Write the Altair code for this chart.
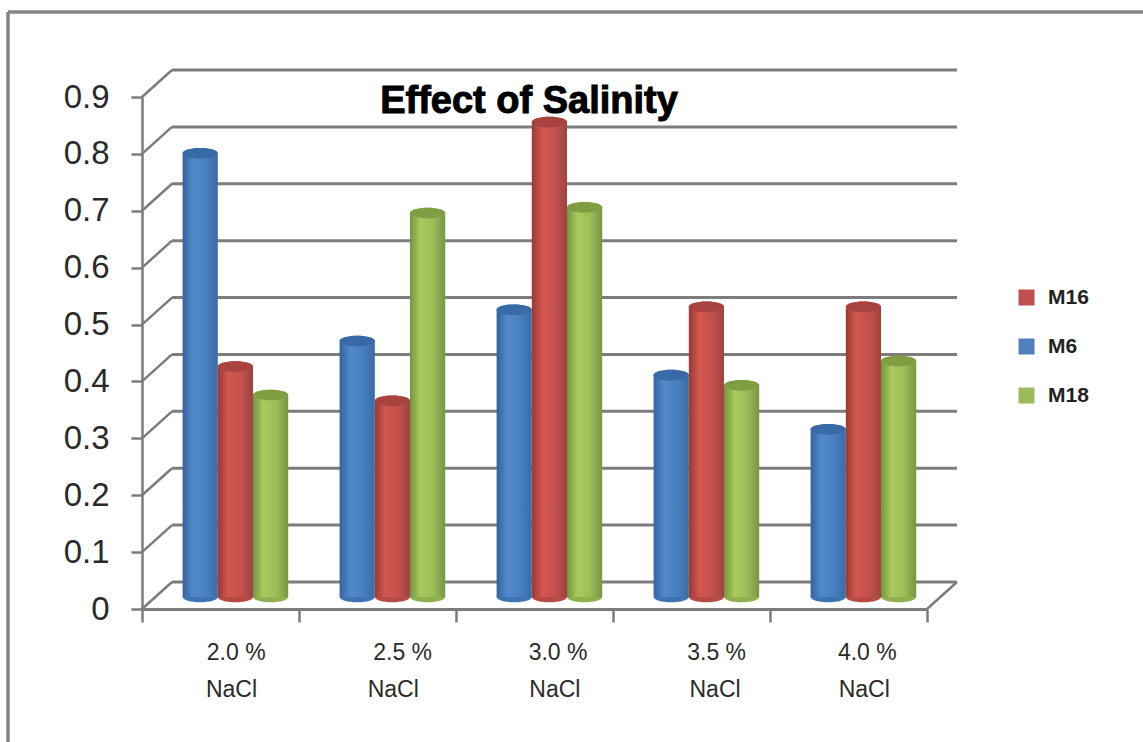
import altair as alt
import pandas as pd

categories = ["2.0 %", "2.5 %", "3.0 %", "3.5 %", "4.0 %"]
series_names = ["M6", "M16", "M18"]
m6_values = [0.78, 0.45, 0.505, 0.39, 0.295]
m16_values = [0.405, 0.345, 0.835, 0.51, 0.51]
m18_values = [0.355, 0.675, 0.685, 0.372, 0.415]
y_ticks = [0, 0.1, 0.2, 0.3, 0.4, 0.5, 0.6, 0.7, 0.8, 0.9]
percent_label_x = [0.60, 1.66, 2.65, 3.66, 4.62]
nacl_label_x = [0.57, 1.60, 2.63, 3.65, 4.60]

legend_order = ["M16", "M6", "M18"]
base_colors = ["#c0504d", "#4f81bd", "#9bbb59"]
cap_colors = {"M6": "#376aa6", "M16": "#a84340", "M18": "#7f9e42"}
foot_colors = {"M6": "#3f74b3", "M16": "#b84a46", "M18": "#8fb04e"}
body_stops = {
    "M6": ["#33649e", "#5089cb", "#4a80c0", "#386ca8"],
    "M16": ["#983936", "#d3574f", "#c4514d", "#9c4440"],
    "M18": ["#749440", "#a9cb5c", "#9dbd59", "#789640"],
}

WIDTH, HEIGHT = 785, 512
DEPTH_X = 30 / WIDTH * 5
DEPTH_Y = 27 / HEIGHT * 0.9
BAR_WIDTH = 35.2 / WIDTH * 5
BAR_START = 40.6 / WIDTH * 5
GRID = "#7c7c7c"

x_scale = alt.Scale(domain=[0, 5], nice=False, zero=False)
y_scale = alt.Scale(domain=[0, 0.9], nice=False, zero=False)
x_axis = alt.Axis(
    title=None, values=[0, 1, 2, 3, 4, 5], labels=False, tickSize=13,
    tickColor=GRID, tickWidth=2.5, domainColor=GRID, domainWidth=3, grid=False,
)
y_axis = alt.Axis(
    title=None, values=y_ticks, format=".1~f", tickSize=11, tickColor=GRID,
    tickWidth=2.5, domainColor=GRID, domainWidth=2.5, grid=False,
    labelFont="Liberation Sans", labelFontSize=33, labelColor="#2a2a2a",
    labelPadding=22,
)


def xpos(field):
    return alt.X(field, type="quantitative", scale=x_scale, axis=x_axis)


def ypos(field):
    return alt.Y(field, type="quantitative", scale=y_scale, axis=y_axis)


# Back wall, side wall and floor of the box
walls = pd.DataFrame({"v": y_ticks})
walls["x0"], walls["x1"] = DEPTH_X, 5 + DEPTH_X
walls["y_back"] = walls["v"] + DEPTH_Y
walls["x_front"] = 0.0

back_lines = alt.Chart(walls).mark_rule(color=GRID, strokeWidth=3).encode(
    x=xpos("x0"), x2="x1:Q", y=ypos("y_back"),
)
side_lines = alt.Chart(walls).mark_rule(color=GRID, strokeWidth=2.5).encode(
    x=xpos("x_front"), x2="x0:Q", y=ypos("v"), y2="y_back:Q",
)
floor_edge = alt.Chart(
    pd.DataFrame({"x": [5], "x2": [5 + DEPTH_X], "y": [0], "y2": [DEPTH_Y]})
).mark_rule(color=GRID, strokeWidth=2.5).encode(
    x=xpos("x"), x2="x2:Q", y=ypos("y"), y2="y2:Q",
)

ELLIPSE = "M-1,0 A1,0.3 0 1 1 1,0 A1,0.3 0 1 1 -1,0 Z"
BASE_LIFT = -12
ELLIPSE_SIZE = 35.2 ** 2

series_values = {"M6": m6_values, "M16": m16_values, "M18": m18_values}
cylinders = []
for s_idx, name in enumerate(series_names):
    rows = pd.DataFrame({"category": categories, "value": series_values[name]})
    rows["series"] = name
    rows["left"] = [i + BAR_START + s_idx * BAR_WIDTH for i in range(5)]
    rows["right"] = rows["left"] + BAR_WIDTH
    rows["mid"] = rows["left"] + BAR_WIDTH / 2
    rows["zero"] = 0.0

    stops = body_stops[name]
    fill = alt.Gradient(
        gradient="linear",
        x1=0, x2=1, y1=0, y2=0,
        stops=[
            alt.GradientStop(color=stops[0], offset=0),
            alt.GradientStop(color=stops[1], offset=0.3),
            alt.GradientStop(color=stops[2], offset=0.65),
            alt.GradientStop(color=stops[3], offset=1),
        ],
    )
    foot = alt.Chart(rows).mark_point(
        shape=ELLIPSE, size=ELLIPSE_SIZE, filled=True, opacity=1,
        color=foot_colors[name], yOffset=BASE_LIFT,
    ).encode(x=xpos("mid"), y=ypos("zero"))
    body = alt.Chart(rows).mark_bar(color=fill, yOffset=BASE_LIFT, y2Offset=BASE_LIFT).encode(
        x=xpos("left"), x2="right:Q", y=ypos("value"), y2="zero:Q",
    )
    cap = alt.Chart(rows).mark_point(
        shape=ELLIPSE, size=ELLIPSE_SIZE, filled=True, opacity=1, yOffset=BASE_LIFT,
    ).encode(
        x=xpos("mid"),
        y=ypos("value"),
        color=alt.Color(
            "series:N",
            scale=alt.Scale(domain=legend_order, range=base_colors),
            legend=alt.Legend(
                title=None, orient="none", legendX=874, legendY=190,
                symbolType="square", symbolSize=256, symbolStrokeWidth=0,
                labelFont="Liberation Sans", labelFontWeight="bold", labelFontSize=21,
                labelColor="#222222", rowPadding=27, labelOffset=11,
            ),
        ),
    )
    cap_shade = alt.Chart(rows).mark_point(
        shape=ELLIPSE, size=ELLIPSE_SIZE, filled=True, opacity=1,
        color=cap_colors[name], yOffset=BASE_LIFT,
    ).encode(x=xpos("mid"), y=ypos("value"))
    cylinders += [foot, body, cap, cap_shade]

# Two-line category labels under the axis
percent_text = alt.Chart(
    pd.DataFrame({"x": percent_label_x, "y": [-0.0775] * 5, "t": categories})
).mark_text(font="Liberation Sans", fontSize=23, color="#2a2a2a").encode(
    x=xpos("x"), y=ypos("y"), text="t:N",
)
nacl_text = alt.Chart(
    pd.DataFrame({"x": nacl_label_x, "y": [-0.1425] * 5, "t": ["NaCl"] * 5})
).mark_text(font="Liberation Sans", fontSize=23, color="#2a2a2a").encode(
    x=xpos("x"), y=ypos("y"), text="t:N",
)

title_text = alt.Chart(
    pd.DataFrame({"x": [2.465], "y": [0.892], "t": ["Effect of Salinity"]})
).mark_text(
    font="Liberation Sans", fontWeight="bold", fontSize=38, color="black",
    stroke="black", strokeWidth=1,
).encode(x=xpos("x"), y=ypos("y"), text="t:N")

# Frame around the picture, open on the right and at the bottom
frame_top = alt.Chart(pd.DataFrame({"a": [0]})).mark_rule(color="#858585", strokeWidth=3.5).encode(
    x=alt.value(-134), x2=alt.value(1001), y=alt.value(-85)
)
frame_left = alt.Chart(pd.DataFrame({"a": [0]})).mark_rule(color="#858585", strokeWidth=3.5).encode(
    x=alt.value(-134), y=alt.value(-85), y2=alt.value(645)
)

chart = alt.layer(
    frame_top, frame_left, back_lines, side_lines, floor_edge,
    *cylinders, percent_text, nacl_text, title_text,
).properties(
    width=WIDTH,
    height=HEIGHT,
    padding={"left": 142, "top": 97, "right": 216, "bottom": 133},
    autosize=alt.AutoSizeParams(type="none"),
    background="white",
).configure_view(stroke=None)

chart.save("out.html", embed_options={"renderer": "svg", "actions": False})
